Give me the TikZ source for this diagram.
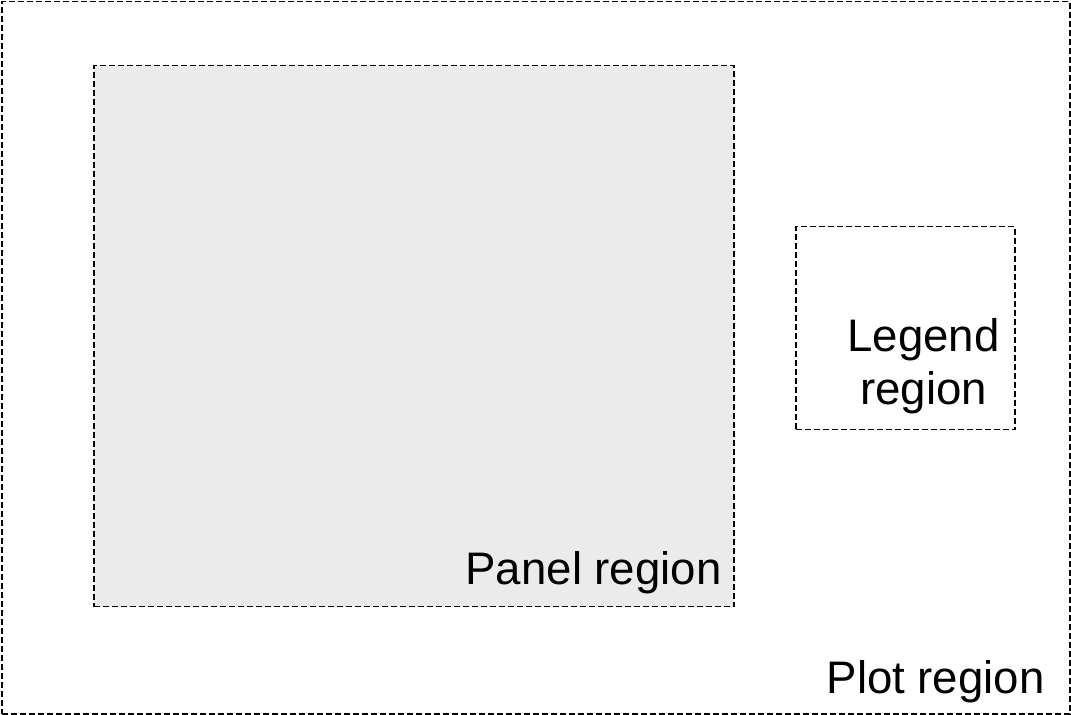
\documentclass[tikz,border=0pt]{standalone}
\usepackage{fontspec}
\setmainfont{Liberation Sans}
\usetikzlibrary{positioning}

\begin{document}
\begin{tikzpicture}[x=0.5pt, y=-0.5pt]
				\tikzstyle{region} = [draw=black, line width=0.75pt, dash pattern=on 3pt off 1.5pt]
				\tikzstyle{lbl} = [inner sep=0pt, font=\fontsize{22.8}{26.5}\selectfont]
				
				\useasboundingbox (0, 0) rectangle (1071, 715);
				\node[region, minimum width=534pt, minimum height=356pt, anchor=north west] 	at (1, 1) 	(plot) 	{};
				\node[region, fill=black!8, minimum width=320pt, minimum height=270.5pt, anchor=north west] 	at (93, 65) 	(panel) 	{};
				\node[region, minimum width=109.5pt, minimum height=101.5pt, anchor=north west] 	at (795, 226) 	(legend) 	{};
				
				\node[lbl, anchor=base east]	at (722, 585)	(paneltxt)	{Panel region};
				\node[lbl, anchor=base east, align=center]	at (1000, 405)	(legendtxt)	{Legend\\region};
				\node[lbl, anchor=base east]	at (1045, 693)	(plottxt)	{Plot region};
\end{tikzpicture}
\end{document}
